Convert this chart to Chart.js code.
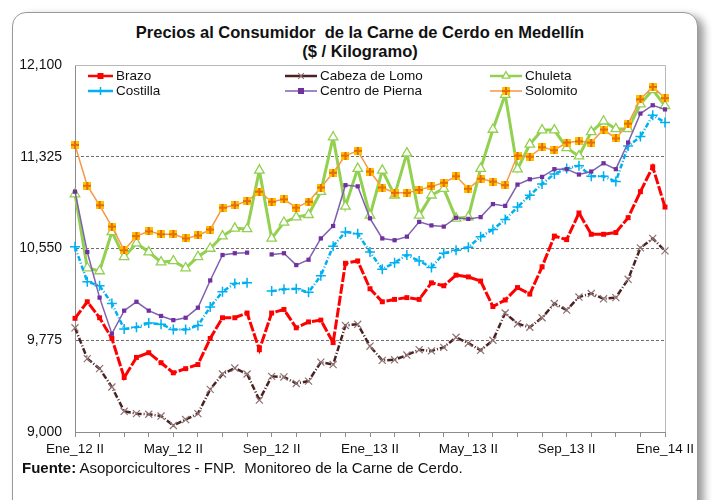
<!DOCTYPE html>
<html>
<head>
<meta charset="utf-8">
<script src="https://cdn.jsdelivr.net/npm/chart.js@4/dist/chart.umd.min.js"></script>
<style>
  body { margin: 0; background: #fff; font-family: "Liberation Sans", Arial, sans-serif; }
  #wrap { position: relative; width: 713px; height: 500px; overflow: hidden; background: #fff; }
  #frame {
    position: absolute; left: 12px; top: 12px; width: 684px; height: 520px;
    border: 1px solid #9a9a9a; border-radius: 14px; background: #fff;
    box-shadow: 6px 4px 8px #9a9a9a;
  }
  #title {
    position: absolute; left: 0; width: 720px; top: 23px; text-align: center;
    font-weight: bold; font-size: 16.5px; line-height: 19px; color: #111;
  }
  #fuente { position: absolute; left: 22px; top: 459px; font-size: 15px; color: #111; }
  canvas { position: absolute; left: 0; top: 0; }
</style>
</head>
<body>
<div id="wrap">
  <div id="frame"></div>
  <div id="title">Precios al Consumidor&nbsp; de la Carne de Cerdo en Medellín<br>($ / Kilogramo)</div>
  <canvas id="chart" width="713" height="500"></canvas>
  <div id="fuente"><b>Fuente:</b> Asoporcicultores - FNP.&nbsp; Monitoreo de la Carne de Cerdo.</div>
</div>
<script>
// Periodos quincenales: Ene_12 II ... Ene_14 II
const meses = ['Ene', 'Feb', 'Mar', 'Abr', 'May', 'Jun', 'Jul', 'Ago', 'Sep', 'Oct', 'Nov', 'Dic'];
const anios = ['12', '13'];
let periodos = [];
anios.forEach(a => meses.forEach(m => { periodos.push(m + '_' + a + ' I'); periodos.push(m + '_' + a + ' II'); }));
periodos.push('Ene_14 I', 'Ene_14 II');
periodos = periodos.slice(1);

const yTicks = [9000, 9775, 10550, 11325, 12100];

const brazo = [9960, 10100, 9965, 9790, 9460, 9630, 9670, 9585, 9500, 9535, 9570, 9790, 9965, 9965, 10005, 9695, 10005, 10035, 9880, 9930, 9945, 9755, 10425, 10445, 10210, 10100, 10120, 10135, 10120, 10260, 10235, 10325, 10310, 10275, 10060, 10115, 10220, 10165, 10395, 10655, 10625, 10850, 10670, 10670, 10685, 10810, 11030, 11240, 10900];
const cabezaLomo = [9880, 9620, 9535, 9380, 9175, 9155, 9150, 9135, 9055, 9105, 9155, 9360, 9490, 9540, 9490, 9270, 9470, 9465, 9410, 9430, 9590, 9570, 9900, 9910, 9725, 9605, 9610, 9650, 9695, 9685, 9715, 9800, 9750, 9690, 9775, 10005, 9915, 9885, 9965, 10085, 10030, 10140, 10170, 10125, 10135, 10290, 10555, 10635, 10530];
const chuleta = [11010, 10385, 10360, 10690, 10480, 10595, 10520, 10435, 10445, 10385, 10480, 10550, 10655, 10720, 10715, 11210, 10635, 10770, 10815, 10835, 11030, 11490, 10905, 11225, 10830, 11210, 11000, 11355, 10830, 11000, 11055, 10805, 10815, 11225, 11555, 11850, 11220, 11430, 11550, 11550, 11400, 11330, 11535, 11625, 11560, 11560, 11770, 11890, 11755];
const costilla = [10565, 10270, 10235, 10085, 9870, 9885, 9920, 9910, 9865, 9865, 9900, 10055, 10185, 10255, 10260, null, 10190, 10205, 10210, 10180, 10320, 10570, 10690, 10675, 10520, 10375, 10430, 10495, 10445, 10390, 10510, 10535, 10560, 10650, 10710, 10795, 10900, 11000, 11095, 11180, 11225, 11250, 11160, 11160, 11115, 11415, 11495, 11675, 11615];
const centroPierna = [11030, 10520, 10135, 9830, 10025, 10100, 10025, 9980, 9945, 9965, 10050, 10280, 10495, 10510, 10515, null, 10500, 10510, 10410, 10455, 10635, 10740, 11085, 11075, 10805, 10635, 10620, 10650, 10775, 10745, 10735, 10810, 10800, 10815, 10925, 10910, 11090, 11135, 11155, 11220, 11220, 11175, 11200, 11270, 11220, 11445, 11690, 11760, 11725];
const solomito = [11425, 11080, 10915, 10735, 10535, 10655, 10695, 10670, 10670, 10635, 10660, 10710, 10895, 10915, 10950, 11030, 10945, 10965, 10895, 10945, 11065, 11190, 11335, 11375, 11200, 11065, 11020, 11020, 11045, 11075, 11105, 11160, 11055, 11140, 11115, 11085, 11335, 11325, 11405, 11380, 11445, 11455, 11445, 11555, 11480, 11605, 11810, 11915, 11820];

// marker for Solomito: gold square with orange cross
const solMarker = document.createElement('canvas');
solMarker.width = 8; solMarker.height = 8;
(function () {
    const c = solMarker.getContext('2d');
    c.fillStyle = '#FFC000';
    c.fillRect(0, 0, 8, 8);
    c.fillStyle = '#E46C0A';
    c.fillRect(3, 0, 2, 8);
    c.fillRect(0, 3, 8, 2);
})();

const datasets = [
    { label: 'Brazo', data: brazo, borderColor: '#FF0000', backgroundColor: '#FF0000', borderWidth: 3,
      borderDash: [10, 2], pointStyle: 'rect', pointRadius: 3.5, pointBorderWidth: 0, order: 6 },
    { label: 'Cabeza de Lomo', data: cabezaLomo, borderColor: '#4A2222', backgroundColor: '#8E7272', borderWidth: 2.5,
      borderDash: [6, 2, 1, 2], pointStyle: 'crossRot', pointRadius: 5, pointBorderColor: '#8E7272', pointBorderWidth: 1.2, order: 5 },
    { label: 'Chuleta', data: chuleta, borderColor: '#92D050', backgroundColor: '#ffffff', borderWidth: 3,
      pointStyle: 'triangle', pointRadius: 5.5, pointBorderColor: '#92D050', pointBackgroundColor: '#ffffff', pointBorderWidth: 1.3, order: 4 },
    { label: 'Costilla', data: costilla, borderColor: '#00B0F0', backgroundColor: '#00B0F0', borderWidth: 2.5,
      borderDash: [5, 2, 1, 2], pointStyle: 'cross', pointRadius: 5, pointBorderColor: '#00B0F0', pointBorderWidth: 1.5, order: 3 },
    { label: 'Centro de Pierna', data: centroPierna, borderColor: '#7F5FB0', backgroundColor: '#7030A0', borderWidth: 1.5,
      pointStyle: 'rect', pointRadius: 3, pointBorderWidth: 0, order: 2 },
    { label: 'Solomito', data: solomito, borderColor: '#F79646', backgroundColor: '#FFC000', borderWidth: 1.5,
      pointStyle: solMarker, order: 1 }
];

// legend drawn inside the plot area, two rows of three
const legendPlugin = {
    id: 'legendInside',
    afterDraw(chart) {
        const ctx = chart.ctx;
        const cols = [88, 285, 490];
        const rows = [76, 91];
        ctx.save();
        ctx.font = '13.5px "Liberation Sans", Arial, sans-serif';
        ctx.textBaseline = 'middle';
        chart.data.datasets.forEach((ds, i) => {
            const x = cols[i % 3], y = rows[Math.floor(i / 3)];
            const w = i % 3 === 0 ? 25 : 32;
            ctx.strokeStyle = ds.borderColor;
            ctx.lineWidth = Math.min(ds.borderWidth, 2.5);
            ctx.beginPath(); ctx.moveTo(x, y); ctx.lineTo(x + w, y); ctx.stroke();
            const cx = x + w / 2;
            if (ds.pointStyle instanceof HTMLCanvasElement) {
                ctx.drawImage(ds.pointStyle, cx - 4, y - 4);
            } else if (ds.pointStyle === 'rect') {
                ctx.fillStyle = ds.backgroundColor;
                ctx.fillRect(cx - 3, y - 3, 6, 6);
            } else {
                ctx.fillStyle = ds.pointBackgroundColor || ds.backgroundColor;
                ctx.strokeStyle = ds.pointBorderColor || ds.borderColor;
                ctx.lineWidth = ds.pointBorderWidth || 1;
                Chart.helpers.drawPoint(ctx, { pointStyle: ds.pointStyle, radius: ds.pointRadius * 0.8, rotation: 0, borderWidth: ds.pointBorderWidth }, cx, y);
            }
            ctx.fillStyle = '#111';
            ctx.fillText(ds.label, x + w + 3, y + 0.5);
        });
        ctx.restore();
    }
};

// light border at top and right of the plot area
const frameLines = {
    id: 'frameLines',
    beforeDatasetsDraw(chart) {
        const { ctx, chartArea: a } = chart;
        ctx.save();
        ctx.strokeStyle = '#b8b8b8';
        ctx.lineWidth = 1;
        ctx.beginPath();
        ctx.moveTo(a.left, a.top + 0.5); ctx.lineTo(a.right + 0.5, a.top + 0.5); ctx.lineTo(a.right + 0.5, a.bottom);
        ctx.stroke();
        ctx.restore();
    }
};

new Chart(document.getElementById('chart'), {
    type: 'line',
    data: { labels: periodos, datasets: datasets },
    options: {
        responsive: false,
        animation: false,
        spanGaps: false,
        elements: { line: { tension: 0 } },
        layout: { padding: { top: 65, right: 48, left: 0, bottom: 0 } },
        plugins: { legend: { display: false }, title: { display: false }, tooltip: { enabled: false } },
        scales: {
            x: {
                offset: false,
                afterFit: s => { s.height = 68; },
                grid: {
                    drawOnChartArea: false, drawTicks: true, tickLength: 5,
                    tickColor: c => (c.index % 2 === 0 ? '#8c8c8c' : 'rgba(0,0,0,0)')
                },
                border: { color: '#8c8c8c', width: 1 },
                ticks: {
                    autoSkip: false, maxRotation: 0, padding: 4, color: '#111',
                    font: { size: 13.5, family: '"Liberation Sans", Arial, sans-serif' },
                    callback: (v, i) => (i % 8 === 0 ? periodos[i] : '')
                }
            },
            y: {
                min: yTicks[0], max: yTicks[yTicks.length - 1],
                afterFit: s => { s.width = 75; },
                afterBuildTicks: s => { s.ticks = yTicks.map(v => ({ value: v })); },
                grid: {
                    drawTicks: false,
                    color: c => (c.tick && (c.tick.value === 9775 || c.tick.value === 10550 || c.tick.value === 11325) ? '#6e6e6e' : 'rgba(0,0,0,0)')
                },
                border: { color: '#8c8c8c', width: 1, dash: [3, 2] },
                ticks: {
                    padding: 13, color: '#111',
                    font: { size: 14, family: '"Liberation Sans", Arial, sans-serif' },
                    callback: v => v.toLocaleString('en-US')
                }
            }
        }
    },
    plugins: [frameLines, legendPlugin]
});
</script>
</body>
</html>
